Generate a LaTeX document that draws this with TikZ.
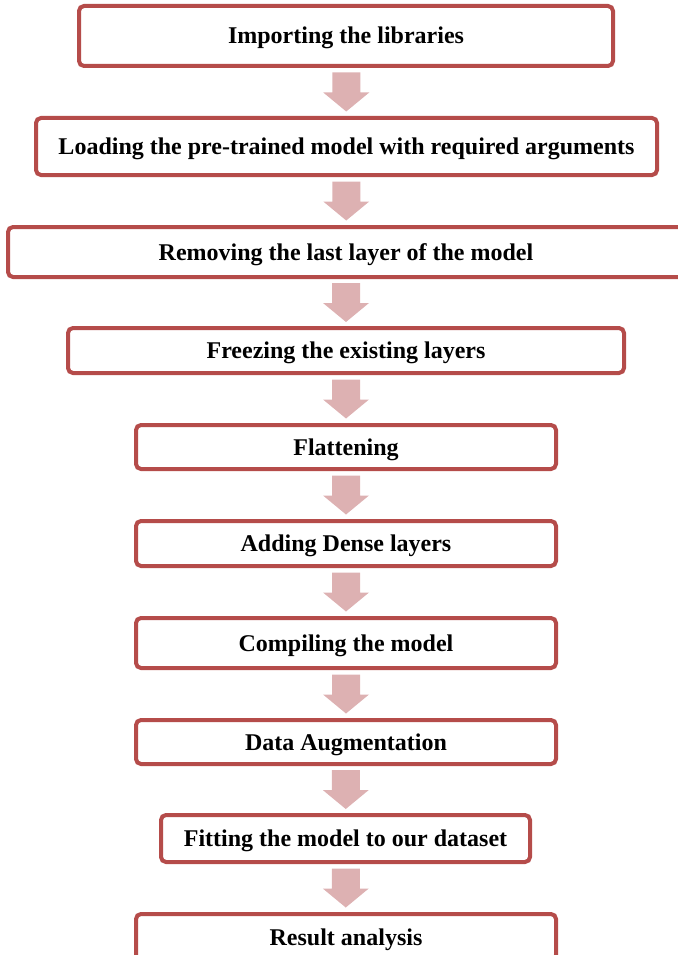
\documentclass[tikz,border=0pt]{standalone}
\usepackage{fontspec}
\setmainfont{Liberation Serif}
\usetikzlibrary{calc}
\definecolor{boxline}{RGB}{181,76,74}
\definecolor{arrowfill}{RGB}{221,177,178}
\begin{document}
\begin{tikzpicture}[x=1pt,y=-1pt,
  stepbox/.style={draw=boxline, line width=4pt, rounded corners=5pt, fill=white,
    inner sep=0pt, text height=16pt, text depth=0pt,
    font=\fontsize{24}{27}\selectfont\bfseries, align=center},
  downarrow/.pic={\fill[arrowfill] (-14,-19.5) -- (14,-19.5) -- (14,0.5) -- (23,0.5)
    -- (0,19.5) -- (-23,0.5) -- (-14,0.5) -- cycle;}]
\useasboundingbox (0,0) rectangle (677,955);

\node[stepbox, minimum width=534pt, minimum height=60pt] (b1) at (346,36) {Importing the libraries};
\node[stepbox, minimum width=621pt, minimum height=57pt] (b2) at (346.5,146.5) {Loading the pre-trained model with required arguments};
\node[stepbox, minimum width=676pt, minimum height=50pt] (b3) at (346,252) {Removing the last layer of the model};
\node[stepbox, minimum width=556pt, minimum height=45pt] (b4) at (346,350.5) {Freezing the existing layers};
\node[stepbox, minimum width=420pt, minimum height=44pt] (b5) at (346,447) {Flattening};
\node[stepbox, minimum width=420pt, minimum height=45pt] (b6) at (346,543.5) {Adding Dense layers};
\node[stepbox, minimum width=420pt, minimum height=50pt] (b7) at (346,643) {Compiling the model};
\node[stepbox, minimum width=420pt, minimum height=44pt] (b8) at (346,742) {Data Augmentation};
\node[stepbox, minimum width=369pt, minimum height=47pt] (b9) at (345.5,838.5) {Fitting the model to our dataset};
\node[stepbox, minimum width=420pt, minimum height=46pt] (b10) at (346,937) {Result analysis};

% block arrows between consecutive steps
\foreach \a/\b in {b1/b2,b2/b3,b3/b4,b4/b5,b5/b6,b6/b7,b7/b8,b8/b9,b9/b10}{
  \path (\a.south) -- (\b.north) coordinate[midway] (m\a);
  \pic at (m\a) {downarrow};
}
\end{tikzpicture}
\end{document}
